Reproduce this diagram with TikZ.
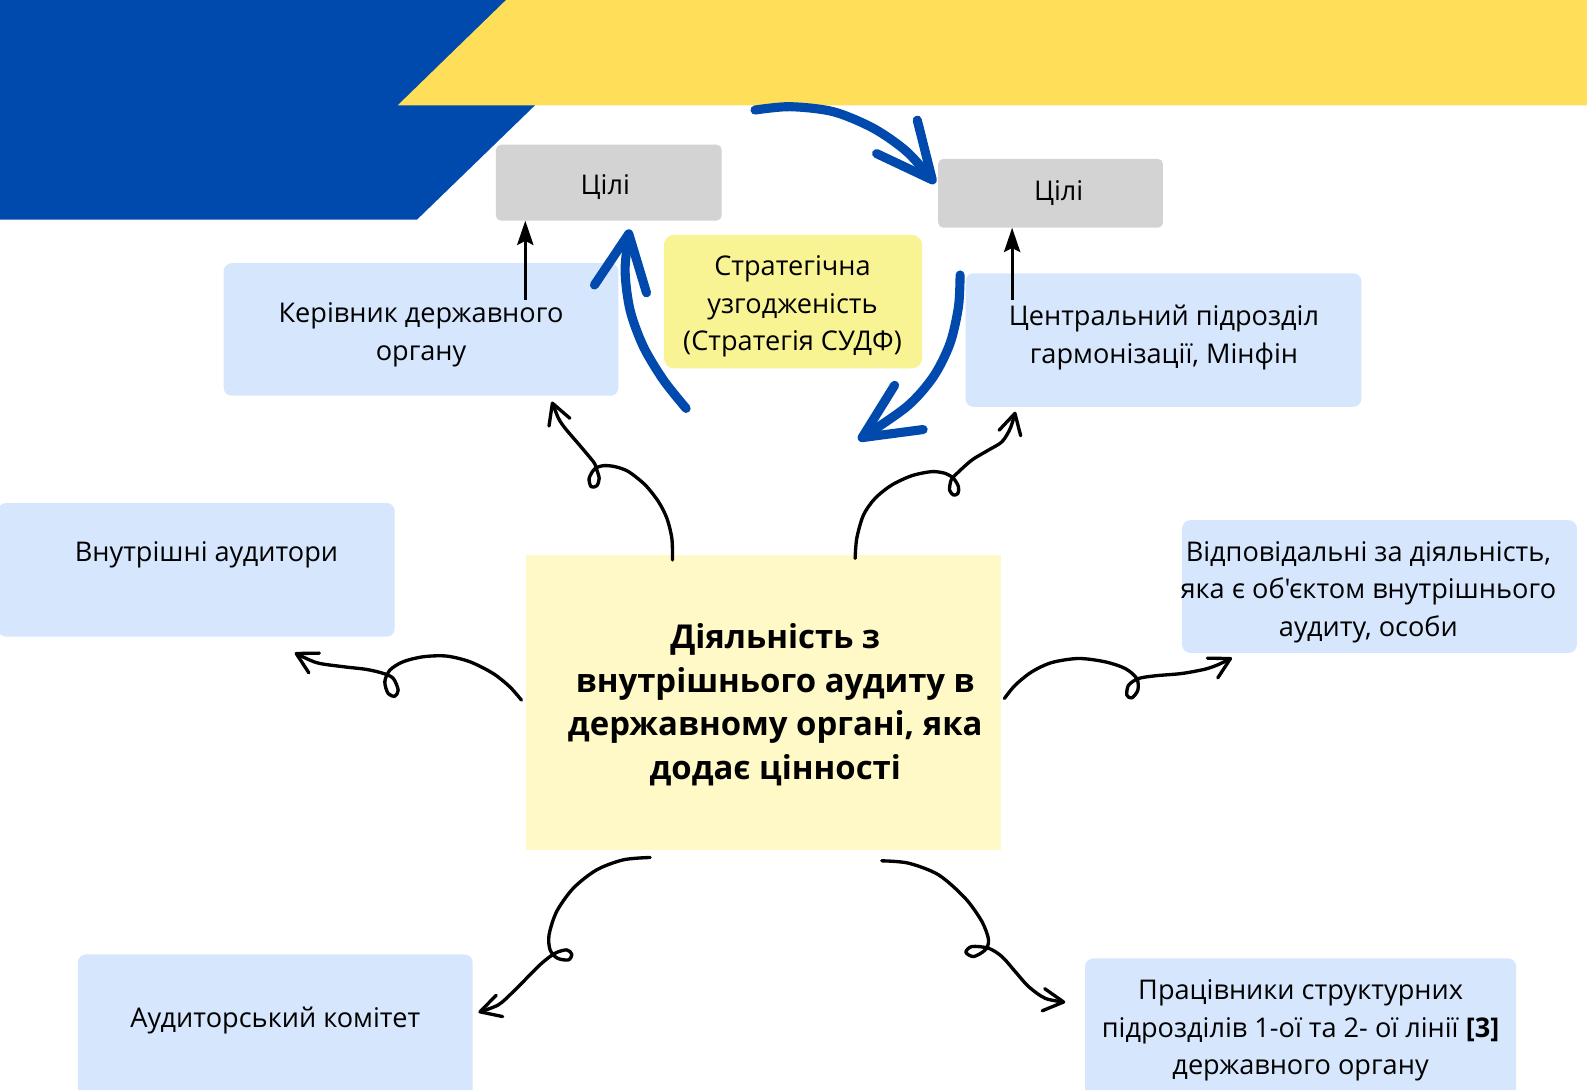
\documentclass[tikz,border=0pt]{standalone}
\usepackage{fontspec}
\setmainfont{Open Sans}[Ligatures=TeXOff]
\usetikzlibrary{arrows.meta}
\definecolor{uablue}{RGB}{0,74,173}
\definecolor{uayellow}{RGB}{255,222,89}
\definecolor{goalgray}{RGB}{211,211,211}
\definecolor{stratyellow}{RGB}{248,244,148}
\definecolor{lightblue}{RGB}{214,230,252}
\definecolor{coreyellow}{RGB}{255,248,199}
\tikzset{
  boxbase/.style={draw=none, inner sep=0pt, outer sep=0pt},
  bluebox/.style={boxbase, fill=lightblue, rounded corners=8pt},
  goalbox/.style={boxbase, fill=goalgray, rounded corners=5pt},
  stratbox/.style={boxbase, fill=stratyellow, rounded corners=10pt},
  corebox/.style={boxbase, fill=coreyellow},
  txt/.style={align=center, inner sep=0pt, font=\fontsize{26.8}{37}\selectfont},
  boldtxt/.style={align=center, inner sep=0pt, font=\fontsize{32.5}{43}\selectfont\bfseries},
  curly/.style={line width=3.3pt, line cap=round, line join=round,
    -{Straight Barb[length=20pt,width=22pt,round]}},
  bluearc/.style={draw=uablue, line width=9pt, line cap=round, line join=round,
    -{Straight Barb[length=55pt,width=52pt,round]}},
  upline/.style={line width=3.2pt, -{Stealth[length=24pt,width=16pt,inset=4pt]}},
}
\begin{document}
\begin{tikzpicture}[x=1pt,y=-1pt]
\useasboundingbox (0,0) rectangle (1568,1076);
\fill[white] (0,0) rectangle (1568,1076);
% background bands
\fill[uablue] (0,0) -- (636,0) -- (412,217) -- (0,217) -- cycle;
\fill[uayellow] (500,0) -- (1572,0) -- (1572,104) -- (393,104) -- cycle;

% boxes
\node[goalbox, minimum width=223pt, minimum height=75pt] (goalA) at (601.5,180.5) {};
\node[goalbox, minimum width=222pt, minimum height=68pt] (goalB) at (1038,191) {};
\node[stratbox, minimum width=255pt, minimum height=132pt] (strat) at (783.5,298) {};
\node[bluebox, minimum width=390pt, minimum height=131pt] (head) at (416,325.5) {};
\node[bluebox, minimum width=391pt, minimum height=132pt] (central) at (1149.5,336) {};
\node[bluebox, minimum width=392pt, minimum height=132pt] (internal) at (194,563) {};
\node[bluebox, minimum width=390pt, minimum height=131pt] (resp) at (1363,579.5) {};
\node[bluebox, minimum width=390pt, minimum height=142pt] (committee) at (272,1014) {};
\node[bluebox, minimum width=426pt, minimum height=143pt] (workers) at (1285,1018.5) {};
\node[corebox, minimum width=469pt, minimum height=292pt] (core) at (754.5,694) {};

% texts
\node[txt] (goalAt) at (598,185) {Цілі};
\node[txt] (goalBt) at (1046,191) {Цілі};
\node[txt] (stratt) at (783,303) {Стратегічна\\узгодженість\\(Стратегія СУДФ)};
\node[txt] (headt) at (416,331) {Керівник державного\\органу};
\node[txt] (centralt) at (1150,333.5) {Центральний підрозділ\\гармонізації, Мінфін};
\node[txt] (internalt) at (204,548) {Внутрішні аудитори};
\node[txt] (respt) at (1352,585) {Відповідальні за діяльність,\\яка є об'єктом внутрішнього\\аудиту, особи};
\node[txt] (committeet) at (272,1008) {Аудиторський комітет};
\node[txt] (workerst) at (1285,1018) {Працівники структурних\\підрозділів 1-ої та 2- ої лінії \textbf{[3]}\\державного органу};
\node[boldtxt] (coret) at (766,696.5) {Діяльність з\\внутрішнього аудиту в\\державному органі, яка\\додає цінності};

% straight black arrows
\draw[upline] (head.north -| 519,0) ++(0,36) -- (goalA.south -| 519,0);
\draw[upline] (central.north -| 1000,0) ++(0,26) -- (goalB.south -| 1000,0);

% blue arcs
\draw[bluearc] plot[smooth] coordinates {(746,108.7) (780.6,105.4) (823.4,110.4) (863,126.8) (896,149.9) (924,181.2)};
\draw[bluearc] plot[smooth] coordinates {(677.9,403.5) (655.5,375.5) (635.7,342.5) (622.5,306.3) (617.6,266.8) (621.9,226.6)};
\draw[bluearc] plot[smooth] coordinates {(948.6,271.7) (947,303) (938.7,339.2) (922.2,372.2) (895.8,401.9) (848,434.8)};

% curly black arrows
\draw[curly] plot[smooth] coordinates {(664.5,553.3) (663.8,531.9) (658.9,512.1) (650.6,495.7) (637.5,479.2) (621,466) (607.8,461.1) (596.2,460.1) (587.4,463.4) (582.1,472.7) (584.1,480.9) (589.7,479.9) (592,472.7) (589.7,464.4) (587.4,457.8) (578.1,446.3) (568.3,434.8) (558.4,423.2) (551.8,413.3) (545.2,396.8)};
\draw[curly] plot[smooth] coordinates {(844.9,551.7) (846.5,531.9) (853.1,508.9) (864.6,492.4) (881.1,479.2) (900.9,470) (920.6,466) (933.8,467.7) (942.1,472.7) (947,480.9) (946.4,487.5) (942.1,489.1) (938.2,484.2) (939.8,474.2) (945.5,467.7) (960.3,454.5) (976.8,444.6) (990,436.4) (998.2,423.2) (1003.2,406.8)};
\draw[curly] plot[smooth] coordinates {(515.2,691.7) (503.6,678.5) (487.2,665.4) (464.2,653.8) (441.1,648.2) (418.1,648.9) (398.3,653.8) (385.2,662.1) (380.2,673.6) (383.5,685.2) (390.1,687.8) (393.4,681.9) (388.5,670.2) (378.6,665.3) (362.1,661.4) (339.1,658.7) (312.7,654.7) (291.2,644.9)};
\draw[curly] plot[smooth] coordinates {(992.4,690.1) (1003,677) (1019.4,663.8) (1039.2,654.6) (1065.6,650.6) (1091.9,653.9) (1111.7,660.5) (1123.2,670.4) (1124.2,681.9) (1118.3,689.5) (1113.4,686.9) (1115,677) (1124.9,670.4) (1141.4,667.7) (1167.8,665.4) (1190.8,661.1) (1204,656.5) (1217.2,649.9)};
\draw[curly] plot[smooth] coordinates {(642.3,847.2) (616,849.5) (589.6,859.4) (566.5,877.5) (550,900.6) (542.5,923.6) (543.5,938.5) (550.7,946.7) (561.6,948.4) (564.9,942.8) (559.9,938.5) (548.4,941.8) (535.2,951.7) (522,964.8) (507.2,979.7) (492.4,992.8) (472.7,1000.2)};
\draw[curly] plot[smooth] coordinates {(871.2,850.5) (897.5,852.8) (927.2,864.3) (953.6,887.4) (970.1,910.4) (976.7,928.5) (973.4,938.5) (961.9,945.1) (954.3,940.8) (960.3,935.2) (976.7,936.9) (989.9,945.1) (1003.1,960) (1016.3,974.8) (1032.8,986.4) (1052.5,990.2)};
\end{tikzpicture}
\end{document}
